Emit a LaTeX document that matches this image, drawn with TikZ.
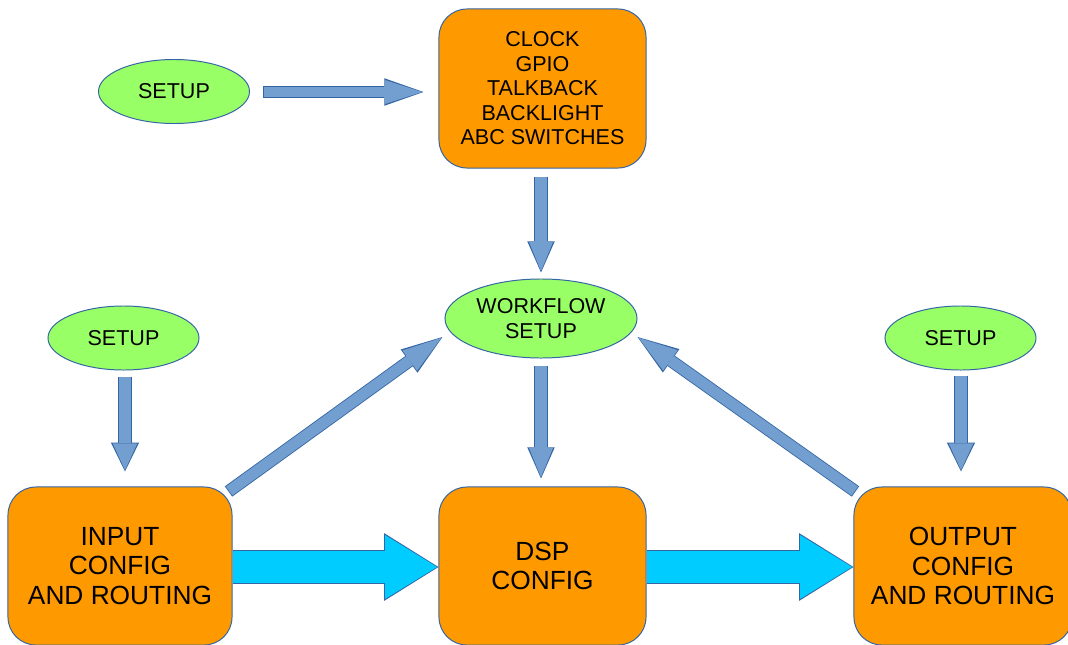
\documentclass[tikz,border=0pt]{standalone}
\usepackage{fontspec}
\setmainfont{Liberation Sans}
\usetikzlibrary{arrows.meta,positioning,calc,shapes.geometric}
\definecolor{Edge}{HTML}{3465A4}
\definecolor{BoxOrange}{HTML}{FF9900}
\definecolor{SetupGreen}{HTML}{99FF66}
\definecolor{FlowBlue}{HTML}{729FCF}
\definecolor{RouteCyan}{HTML}{00CCFF}
% block arrow: fill colour, tail, tip, shaft width, head width, head length
\newcommand{\FlowArrow}[6]{%
  \pgfmathsetlengthmacro{\ShaftOut}{#4+1.2pt}%
  \pgfmathsetlengthmacro{\HeadOut}{#5+2.6pt}%
  \pgfmathsetlengthmacro{\TipOut}{#6+1.6pt}%
  \draw[draw=Edge,line width=\ShaftOut,-{Triangle[length=\TipOut,width=\HeadOut,line width=0pt]}] (#2) -- (#3);%
  \draw[draw=#1,line width=#4,shorten <=0.6pt,shorten >=1pt,-{Triangle[length=#6,width=#5,line width=0pt]}] (#2) -- (#3);%
}
\tikzset{
  smalltext/.style={font=\fontsize{15.3}{17.4}\selectfont},
  bigtext/.style={font=\fontsize{18.7}{21}\selectfont},
  cfgbox/.style={draw=Edge,line width=0.7pt,fill=BoxOrange,rounded corners=7mm,inner sep=0pt,align=center,text=black,minimum height=39.5mm},
  setupell/.style={ellipse,draw=Edge,line width=0.7pt,fill=SetupGreen,inner sep=0pt,align=center,text=black,smalltext},
}

\begin{document}
\begin{tikzpicture}[x=0.025cm,y=-0.025cm]
\useasboundingbox (0,0) rectangle (1068,645);
\clip (0,0) rectangle (1068,645);
% boxes
\node[cfgbox,smalltext,minimum width=51.75mm,minimum height=39.75mm] (clock) at (542.5,88.5) {CLOCK\\GPIO\\TALKBACK\\BACKLIGHT\\ABC SWITCHES};
\node[cfgbox,bigtext,minimum width=56mm] (input) at (120,566) {INPUT\\CONFIG\\AND ROUTING};
\node[cfgbox,bigtext,minimum width=51.75mm] (dsp) at (542.5,566) {DSP\\CONFIG};
\node[cfgbox,bigtext,minimum width=54.5mm] (output) at (963,566) {OUTPUT\\CONFIG\\AND ROUTING};
% ellipses
\foreach \n/\x/\y in {setupA/174/91.5,setupB/123.5/338,setupC/960.5/338} {
  \node[setupell,minimum width=37.75mm,minimum height=16mm] (\n) at (\x,\y) {SETUP};
}
\node[setupell,minimum width=48mm,minimum height=19.75mm] (workflow) at (541,318.5) {WORKFLOW\\SETUP};
% arrows
\FlowArrow{FlowBlue}{$(setupA.east)+(13,0.5)$}{$(clock.west)+(-15,3.5)$}{7.1pt}{17pt}{26.3pt}
\FlowArrow{FlowBlue}{$(clock.south)+(-1.5,8)$}{$(workflow.north)+(0,-6)$}{8.5pt}{17pt}{20.6pt}
\FlowArrow{FlowBlue}{$(setupB.south)+(1.5,6)$}{$(setupB.south)+(1.5,101)$}{8.5pt}{17.5pt}{19pt}
\FlowArrow{FlowBlue}{$(setupC.south)+(0.5,5)$}{$(setupC.south)+(0.5,101)$}{8.5pt}{17.5pt}{19pt}
\FlowArrow{FlowBlue}{$(workflow.south)+(0,7)$}{$(dsp.north)+(-1.5,-8)$}{8.5pt}{17pt}{20.6pt}
\FlowArrow{FlowBlue}{$(input.north east)+(-4,5)$}{$(workflow.west)+(-2,18.5)$}{7.8pt}{17.8pt}{27.7pt}
\FlowArrow{FlowBlue}{$(output.north west)+(2,5)$}{$(workflow.east)+(0,18.5)$}{7.8pt}{17.8pt}{27.7pt}
\FlowArrow{RouteCyan}{$(input.east)+(0,1)$}{$(dsp.west)+(0,1)$}{22.8pt}{45.5pt}{37pt}
\FlowArrow{RouteCyan}{$(dsp.east)+(0,1)$}{$(output.west)+(0,1)$}{22.8pt}{45.5pt}{37pt}
\end{tikzpicture}
\end{document}
